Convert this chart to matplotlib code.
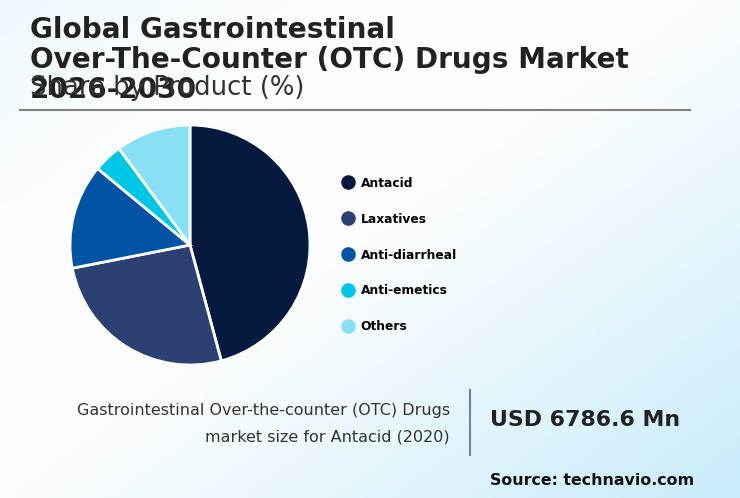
import numpy as np
import matplotlib
matplotlib.use('Agg')
import matplotlib.pyplot as plt
from matplotlib.colors import LinearSegmentedColormap
from matplotlib.lines import Line2D

W, H = 740, 498

categories = ['Antacid', 'Laxatives', 'Anti-diarrheal', 'Anti-emetics', 'Others']
shares = [45.8, 26.1, 14.1, 3.9, 10.1]
colors = ['#061a40', '#2c4072', '#0353a4', '#00c6e6', '#89e0f5']
title_lines = ['Global Gastrointestinal', 'Over-The-Counter (OTC) Drugs Market', '2026-2030']
subtitle = 'Share by Product (%)'
size_label = ['Gastrointestinal Over-the-counter (OTC) Drugs', 'market size for Antacid (2020)']
size_value = 'USD 6786.6 Mn'
source = 'Source: technavio.com'

fig = plt.figure(figsize=(W / 100, H / 100), dpi=100)

# background gradient + all the loose text, axes in pixel coords
bg = fig.add_axes([0, 0, 1, 1])
bg.set_xlim(0, W)
bg.set_ylim(H, 0)
bg.axis('off')
yy, xx = np.mgrid[0:1:200j, 0:1:200j]
diag = (xx * W + yy * H * 1.4) / (W + H * 1.4)
cmap = LinearSegmentedColormap.from_list('bg', [(0, '#eef9fd'), (0.2, '#fafdff'), (0.42, '#ffffff'),
                                                (0.6, '#f2fafe'), (0.8, '#def3fc'), (1, '#c8ecf9')])
bg.imshow(diag, cmap=cmap, extent=(0, W, H, 0), aspect='auto', zorder=0)

for line, y in zip(title_lines, [30, 60, 90]):
    bg.text(30, y, line, fontsize=20.1, fontweight='bold', color='#222222', va='center', ha='left')
bg.text(30, 88, subtitle, fontsize=18.6, color='#333333', va='center', ha='left')
bg.plot([20, 690], [110, 110], color='#808080', lw=1.5)

bg.text(450, 410, size_label[0], fontsize=11.5, color='#333333', va='center', ha='right')
bg.text(450, 437, size_label[1], fontsize=11.5, color='#333333', va='center', ha='right')
bg.plot([470, 470], [390, 455], color='#6f8496', lw=1.5)
bg.text(490, 420, size_value, fontsize=15.8, fontweight='bold', color='#222222', va='center', ha='left')
bg.text(490, 480, source, fontsize=11.4, fontweight='bold', color='#111111', va='center', ha='left')

# pie centre (190,245) radius 120
ax = fig.add_axes([70 / W, 1 - 365 / H, 240 / W, 240 / H])
ax.pie(shares, colors=colors, startangle=90, counterclock=False, radius=1,
       wedgeprops={'edgecolor': 'white', 'linewidth': 2})
ax.set_xlim(-1, 1)
ax.set_ylim(-1, 1)

handles = [Line2D([], [], marker='o', ls='none', ms=10.5, color=c, mec='none') for c in colors]
leg = bg.legend(handles, categories, loc='center left', bbox_to_anchor=(336 / W, 1 - 255 / H),
                frameon=False, labelspacing=1.88, handletextpad=0, borderpad=0, borderaxespad=0,
                prop={'size': 8.8, 'weight': 'bold'})
for t in leg.get_texts():
    t.set_color('#000000')

fig.savefig('out.png', dpi=100)
